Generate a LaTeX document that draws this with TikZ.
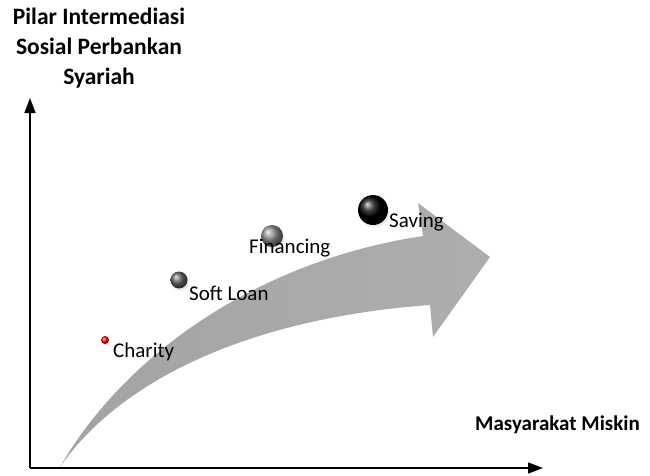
\documentclass[tikz,border=0pt]{standalone}
\usepackage{fontspec}
\setmainfont{Carlito}
\usetikzlibrary{arrows.meta,shadows}
\tikzset{
	axis/.style={line width=1.4pt,-{Triangle[length=15pt,width=11pt]}},
	ball/.style={circle,inner sep=0pt,shading=ball,
		drop shadow={shadow xshift=1.5pt,shadow yshift=-2.5pt,opacity=0.15,fill=gray}},
	lbl/.style={font=\fontsize{21}{24}\selectfont,inner sep=0pt,anchor=west},
	ttl/.style={font=\bfseries\fontsize{23.5}{30}\selectfont,align=center,inner sep=0pt}
}
\begin{document}
\begin{tikzpicture}[x=1pt,y=-1pt]
	\useasboundingbox (0,0) rectangle (650,475);
	% axes
	\coordinate (o) at (30,468);
	\coordinate (ytop) at (30,98);
	\coordinate (xend) at (543,468);
	\draw[axis] (o) -- (ytop);
	\draw[axis] (o) -- (xend);
	\node[ttl] (ylabel) at (99,48) {Pilar Intermediasi\\Sosial Perbankan\\Syariah};
	\node[ttl,font=\bfseries\fontsize{21}{24}\selectfont,anchor=east] (xlabel) at (640,425) {Masyarakat Miskin};
	% big curved arrow
	\shade[left color=gray!72,right color=gray!64]
	(60,467) .. controls (120,362) and (250,262) .. (423,236)
	-- (418,203) -- (490,257) -- (433,337) -- (430,305)
	.. controls (250,318) and (120,380) .. (60,467) -- cycle;
	% steps
	\node[ball,ball color=red,minimum size=8pt] (charity) at (105,340) {};
	\node[ball,ball color=gray!80!black,minimum size=17pt] (softloan) at (179,280) {};
	\node[ball,ball color=gray!90,minimum size=22pt] (financing) at (272,236) {};
	\node[ball,ball color=black,minimum size=30pt] (saving) at (373,210) {};
	\node[lbl] at (113,352) {Charity};
	\node[lbl] at (189,293) {Soft Loan};
	\node[lbl] at (249,248) {Financing};
	\node[lbl] at (389,222) {Saving};
\end{tikzpicture}
\end{document}
